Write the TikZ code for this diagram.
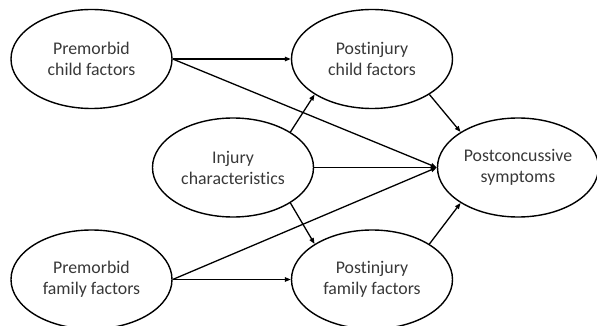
\documentclass[tikz,border=0pt]{standalone}
\usepackage{fontspec}
\setmainfont[Ligatures={NoCommon}]{Carlito}
\usetikzlibrary{shapes.geometric,arrows.meta}
\begin{document}
\begin{tikzpicture}[x=1pt,y=-1pt,
  factor/.style={ellipse,draw=black,line width=1.4pt,minimum width=161pt,minimum height=99pt,
    inner sep=0pt,align=center,font=\fontsize{17.8}{21}\selectfont,text=black!78},
  link/.style={draw=black,line width=1.3pt,-{Triangle[length=6pt,width=4.5pt]}}]
\useasboundingbox (0,0) rectangle (597,326);
\node[factor] (pc)  at (91.5,59)   {Premorbid\\child factors};
\node[factor] (pic) at (372,59)    {Postinjury\\child factors};
\node[factor] (ic)  at (233,167.5) {Injury\\characteristics};
\node[factor] (ps)  at (518,167.5) {Postconcussive\\symptoms};
\node[factor] (pf)  at (91.5,279.5){Premorbid\\family factors};
\node[factor] (pif) at (372,279.5) {Postinjury\\family factors};
\draw[link] (pc.east) -- (pic.west);
\draw[link] (pc.east) -- (ps.west);
\draw[link] (ic.east) -- (ps.west);
\draw[link] (pf.east) -- (ps.west);
\draw[link] (pf.east) -- (pif.west);
\draw[link] (ic.north east) -- (pic.south west);
\draw[link] (ic.south east) -- (pif.north west);
\draw[link] (pic.south east) -- (ps.north west);
\draw[link] (pif.north east) -- (ps.south west);
\end{tikzpicture}
\end{document}
